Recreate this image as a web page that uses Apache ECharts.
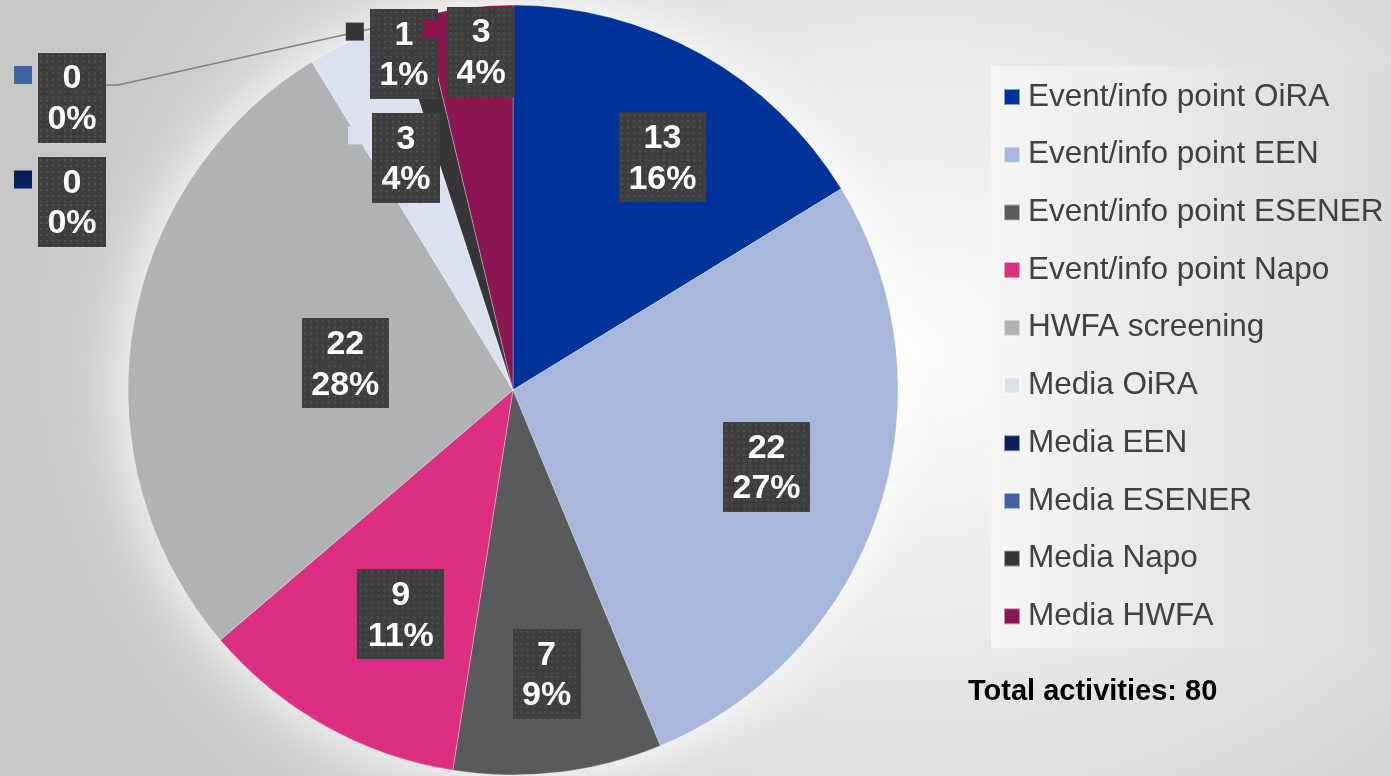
<!DOCTYPE html>
<html>
<head>
<meta charset="utf-8">
<title>Activities</title>
<script src="https://cdn.jsdelivr.net/npm/echarts@6/dist/echarts.min.js"></script>
<style>
  html, body { margin: 0; padding: 0; }
  body {
    width: 1391px; height: 776px; overflow: hidden;
    background: radial-gradient(ellipse 900px 700px at 66% 45%, #fbfbfb 0%, #ececec 35%, #dadada 70%, #c8c8c8 100%);
  }
  #main { width: 1391px; height: 776px; }
</style>
</head>
<body>
<div id="main"></div>
<script>
  var categories = ['Event/info point OiRA', 'Event/info point EEN', 'Event/info point ESENER',
    'Event/info point Napo', 'HWFA screening', 'Media OiRA', 'Media EEN', 'Media ESENER',
    'Media Napo', 'Media HWFA'];
  var counts = [13, 22, 7, 9, 22, 3, 0, 0, 1, 3];
  var shares = [16, 27, 9, 11, 28, 4, 0, 0, 1, 4];
  var totalText = 'Total activities: ';

  var colors = ['#00339a', '#a6b7db', '#5a5a5c', '#dd2f82', '#b1b2b4',
    '#dbe1ef', '#0b1f5c', '#4263a3', '#363636', '#8c1651'];
  var FONT = '"Liberation Sans", Arial, sans-serif';
  var CX = 513, CY = 390, R = 385;

  // where the data labels sit: fraction of radius along the slice, plus a small nudge
  var labelR = [0.72, 0.687, 0.742, 0.65, 0.441, 0.664, null, null, 0.92, 0.88];
  var nudge = [[14, 9], [2, -5], [0, 0], [10, 6], [0, 0], [0, 0], [0, 0], [0, 0], [-13, 5], [8, -2]];
  var withKey = [0, 0, 0, 0, 0, 1, 1, 1, 1, 1];
  var parked = { 6: [72, 202], 7: [72, 97.5] }; // the two zero slices, labels pushed to the left

  function dots(w, h) {
    var c = document.createElement('canvas');
    c.width = w; c.height = h;
    var g = c.getContext('2d');
    g.fillStyle = '#3e3e3e';
    g.fillRect(0, 0, w, h);
    g.fillStyle = '#505050';
    for (var x = 2; x < w; x += 6) {
      for (var y = 2; y < h; y += 6) g.fillRect(x, y, 2, 2);
    }
    return c;
  }

  function boxStyle(w, pad) {
    return {
      width: w, align: 'center', padding: pad, lineHeight: 45,
      color: '#fff', fontSize: 34, fontWeight: 'bold', fontFamily: FONT,
      backgroundColor: { image: dots(w, 45) },
      shadowBlur: 6, shadowColor: 'rgba(0,0,0,0.45)', shadowOffsetX: 3, shadowOffsetY: 3
    };
  }

  function richFor(i) {
    var w = shares[i] >= 10 ? 87 : 68;
    return {
      t: boxStyle(w, [9.5, 0, 1.5, 0]),
      u: boxStyle(w, [5, 0, 6, 0]),
      k: { width: 18, height: 18, backgroundColor: colors[i] },
      g: { width: 6 },
      s: { width: 24 }
    };
  }

  function textFor(i) {
    var p1 = withKey[i] ? '{k|}{g|}' : '';
    var p2 = withKey[i] ? '{s|}' : '';
    return p1 + '{t|' + counts[i] + '}\n' + p2 + '{u|' + shares[i] + '%}';
  }

  var total = counts.reduce(function (a, b) { return a + b; }, 0);

  var pieData = categories.map(function (name, i) {
    var isZero = counts[i] === 0;
    return {
      name: name,
      value: counts[i],
      itemStyle: { color: colors[i] },
      label: {
        show: true,
        position: isZero ? 'outside' : 'inside',
        formatter: textFor(i),
        rich: richFor(i)
      },
      labelLine: {
        show: i === 7,
        length: 10, length2: 10,
        lineStyle: { color: '#808080', width: 1.5 }
      }
    };
  });

  var myChart = echarts.init(document.getElementById('main'), null, { renderer: 'canvas' });

  var option = {
    backgroundColor: 'transparent',
    animation: false,
    title: {
      text: totalText + total,
      left: 968, top: 677, padding: 0,
      textStyle: { fontSize: 29, fontWeight: 'bold', color: '#000', fontFamily: FONT }
    },
    legend: {
      orient: 'vertical',
      left: 991, top: 66,
      padding: [15, 9, 16, 12],
      itemGap: 25.7,
      itemWidth: 16, itemHeight: 16,
      icon: 'rect',
      selectedMode: false,
      backgroundColor: new echarts.graphic.LinearGradient(0, 0, 1, 0, [
        { offset: 0, color: '#f5f5f5' },
        { offset: 1, color: '#dadada' }
      ]),
      textStyle: { fontSize: 31.5, lineHeight: 30, color: '#404040', fontFamily: FONT, padding: [0, 0, 0, 3] },
      data: categories
    },
    series: [
      {
        // soft white glow behind the pie
        name: 'glow',
        type: 'pie',
        silent: true,
        z: 1,
        center: [CX, CY],
        radius: R,
        label: { show: false },
        labelLine: { show: false },
        data: [{ value: 1, name: '', itemStyle: { color: '#f4f4f4', shadowBlur: 60, shadowColor: 'rgba(255,255,255,1)' } }]
      },
      {
        name: 'Activities',
        type: 'pie',
        z: 2,
        center: [CX, CY],
        radius: R,
        startAngle: 90,
        clockwise: true,
        minShowLabelAngle: 0,
        avoidLabelOverlap: false,
        emphasis: { disabled: true },
        itemStyle: { borderColor: 'rgba(255,255,255,0.5)', borderWidth: 0.6 },
        labelLayout: function (p) {
          var i = p.dataIndex;
          var shift = withKey[i] ? 12 : 0;
          var bx, by;
          if (parked[i]) {
            bx = parked[i][0];
            by = parked[i][1];
          } else {
            var ax = p.labelRect.x + p.labelRect.width / 2;
            var ay = p.labelRect.y + p.labelRect.height / 2;
            var dx = ax - CX, dy = ay - CY;
            var d = Math.sqrt(dx * dx + dy * dy) || 1;
            bx = CX + dx / d * labelR[i] * R + nudge[i][0];
            by = CY + dy / d * labelR[i] * R + nudge[i][1];
          }
          var out = { x: bx - shift, y: by, align: 'center', verticalAlign: 'middle' };
          if (i === 7) {
            var start = (p.labelLinePoints && p.labelLinePoints[0]) || [CX, CY - R];
            out.labelLinePoints = [start, [118, 85], [106, 85]];
          }
          return out;
        },
        data: pieData
      }
    ]
  };

  myChart.setOption(option);
</script>
</body>
</html>
